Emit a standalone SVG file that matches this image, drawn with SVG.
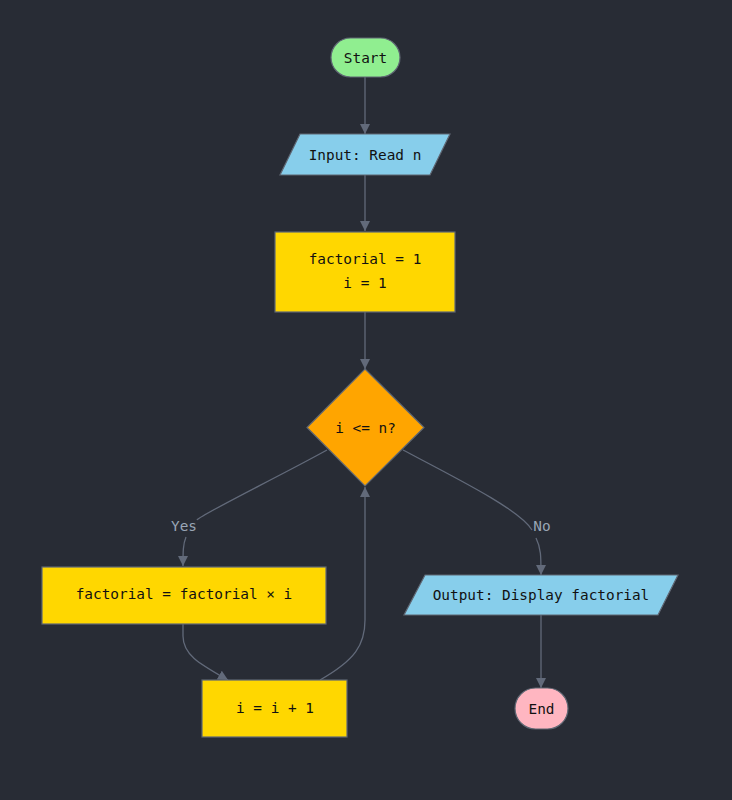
<svg xmlns="http://www.w3.org/2000/svg" width="732" height="800" viewBox="0 0 732 800">
<style>
.n{stroke:#5f6773;stroke-width:1.2}
.t{font-family:"DejaVu Sans Mono","Liberation Mono",monospace;font-size:14.4px;fill:#111;text-anchor:middle;dominant-baseline:central}
.e{fill:none;stroke:#626a7a;stroke-width:1.3}
.l{font-family:"DejaVu Sans Mono","Liberation Mono",monospace;font-size:14.4px;fill:#9aa6b6;text-anchor:middle;dominant-baseline:central}
</style>
<defs>
<marker id="a" viewBox="0 0 10 10" refX="10" refY="5" markerWidth="10" markerHeight="10" markerUnits="userSpaceOnUse" orient="auto">
<path d="M0,0L10,5L0,10z" fill="#626a7a"/>
</marker>
</defs>
<rect width="732" height="800" fill="#282c35"/>
<g id="connectors">
<path class="e" d="M365,77V134" marker-end="url(#a)"/>
<path class="e" d="M365,175V231" marker-end="url(#a)"/>
<path class="e" d="M365,312V369" marker-end="url(#a)"/>
<path class="e" d="M327,450C280,476 200,515 197,520"/>
<path class="e" d="M186,537C183,544 183,552 183,566" marker-end="url(#a)"/>
<path class="e" d="M403,450C460,480 520,510 532,530"/>
<path class="e" d="M536,538C541,548 541,556 541,575" marker-end="url(#a)"/>
<path class="e" d="M183,624V636C183,655 200,664 228,680" marker-end="url(#a)"/>
<path class="e" d="M320,680C355,660 365,645 365,620V487" marker-end="url(#a)"/>
<path class="e" d="M541,615V688" marker-end="url(#a)"/>
<text class="l" x="184" y="526">Yes</text>
<text class="l" x="542" y="526">No</text>
</g>
<g id="start">
<rect class="n" x="331" y="38" width="69" height="39" rx="19.5" fill="#90ee90"/>
<text class="t" x="365.5" y="57.5">Start</text>
</g>
<g id="input">
<polygon class="n" points="300,134 450,134 430,175 280,175" fill="#87ceeb"/>
<text class="t" x="365" y="154.5">Input: Read n</text>
</g>
<g id="init">
<rect class="n" x="275" y="232" width="180" height="80" fill="#ffd700"/>
<text class="t" x="365" y="259">factorial = 1</text>
<text class="t" x="365" y="283">i = 1</text>
</g>
<g id="cond">
<polygon class="n" points="365,369 424,427.5 365,486 307,427.5" fill="#ffa500"/>
<text class="t" x="365.5" y="427.5">i &lt;= n?</text>
</g>
<g id="multiply">
<rect class="n" x="42" y="567" width="284" height="57" fill="#ffd700"/>
<text class="t" x="184" y="594">factorial = factorial × i</text>
</g>
<g id="increment">
<rect class="n" x="202" y="680" width="145" height="57" fill="#ffd700"/>
<text class="t" x="275" y="708">i = i + 1</text>
</g>
<g id="output">
<polygon class="n" points="425,575 678,575 658,615 404,615" fill="#87ceeb"/>
<text class="t" x="541" y="594.5">Output: Display factorial</text>
</g>
<g id="end">
<rect class="n" x="515" y="688" width="53" height="41" rx="20.5" fill="#ffb6c1"/>
<text class="t" x="541.5" y="708.5">End</text>
</g>
</svg>
